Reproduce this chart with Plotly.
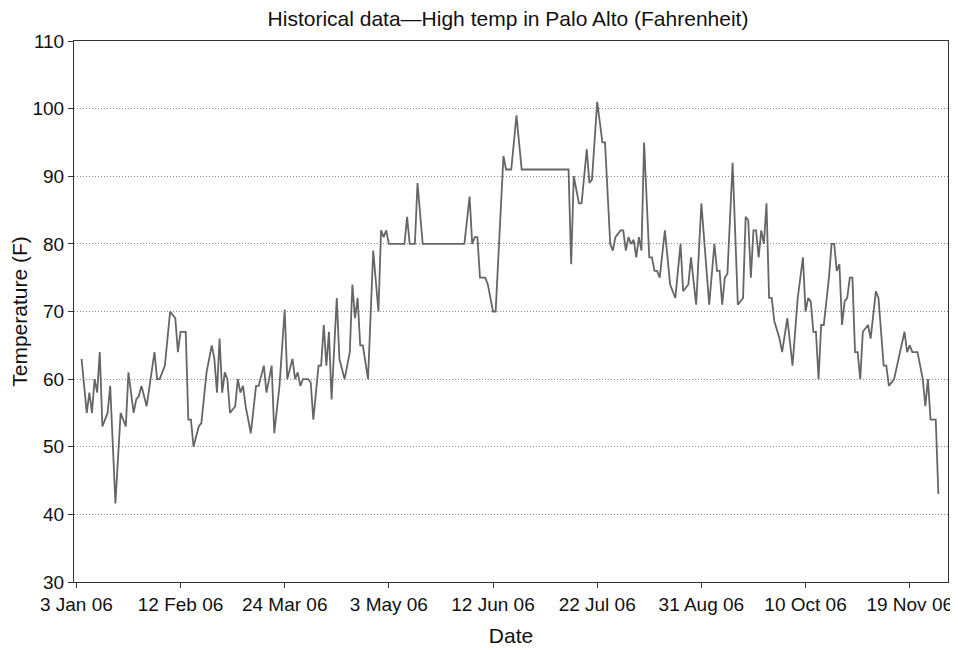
import pandas as pd
import plotly.graph_objects as go

day_offsets = [
    2, 4, 5, 6, 7, 8, 9, 10, 12, 13, 15, 17, 19, 20, 22, 23, 24, 25, 27, 30,
    31, 32, 34, 36, 38, 39, 40, 42, 43, 44, 45, 47, 48, 50, 52, 53, 54, 55, 56, 57,
    58, 59, 61, 62, 63, 64, 65, 67, 69, 70, 72, 73, 75, 76, 78, 80, 81, 83, 84, 85,
    86, 87, 89, 90, 91, 93, 94, 95, 96, 97, 98, 100, 101, 103, 105, 106, 107, 108, 109, 110,
    112, 114, 116, 117, 118, 119, 120, 126, 127, 128, 130, 131, 133, 149, 151, 152, 153, 154, 155, 157,
    158, 160, 161, 164, 165, 167, 169, 171, 189, 190, 191, 193, 194, 196, 197, 198, 200, 202, 203, 205,
    206, 207, 209, 210, 211, 212, 213, 214, 215, 216, 217, 218, 220, 221, 222, 223, 224, 226, 228, 230,
    232, 233, 235, 236, 238, 240, 243, 245, 246, 247, 248, 249, 250, 252, 254, 256, 257, 258, 259, 260,
    261, 262, 263, 264, 265, 266, 267, 268, 270, 271, 273, 275, 277, 279, 280, 281, 282, 283, 284, 285,
    286, 287, 289, 290, 291, 292, 293, 294, 295, 296, 297, 298, 299, 300, 301, 302, 304, 305, 307, 308,
    310, 311, 312, 314, 318, 319, 320, 321, 323, 325, 326, 327, 328, 330, 331,
]
high_temp = [
    63, 55, 58, 55, 60, 58, 64, 53, 55, 59, 41.6, 55, 53, 61, 55, 57, 57.5, 59, 56, 64,
    60, 60, 62, 70, 69, 64, 67, 67, 54, 54, 50, 53, 53.5, 61, 65, 63, 58, 66, 58, 61,
    60, 55, 56, 60, 58, 59, 56, 52, 59, 59, 62, 58, 62, 52, 59, 70.3, 60, 63, 60, 61,
    59, 60, 60, 59.5, 54, 62, 62, 68, 62, 67, 57, 72, 63, 60, 64, 74, 69, 72, 65, 65,
    60, 79, 70, 82, 81, 82, 80, 80, 84, 80, 80, 89, 80, 80, 87, 80, 81, 81, 75, 75,
    74, 70, 70, 93, 91, 91, 99, 91, 91, 77, 90, 86, 86, 94, 89, 89.5, 101, 95, 95, 80,
    79, 81, 82, 82, 79, 81, 80, 80.6, 78, 81, 79, 95, 78, 78, 76, 76, 75, 82, 74, 72,
    80, 73, 74, 78, 71, 86, 71, 80, 76, 76, 71, 75, 75.6, 92, 71, 72, 84, 83.5, 75, 82,
    82, 78, 82, 80, 86, 72, 72, 68.6, 66, 64, 69, 62, 72, 78, 70, 72, 71.5, 67, 67, 60,
    68, 68, 75, 80, 80, 76, 77, 68, 71.5, 72, 75, 75, 64, 64, 60, 67, 68, 66, 73, 72,
    62, 62, 59, 60, 67, 64, 65, 64, 64, 60, 56, 60, 54, 54, 43,
]

tick_day_offsets = [0, 40, 80, 120, 160, 200, 240, 280, 320]
tick_labels = ["3 Jan 06", "12 Feb 06", "24 Mar 06", "3 May 06", "12 Jun 06",
               "22 Jul 06", "31 Aug 06", "10 Oct 06", "19 Nov 06"]
y_ticks = [30, 40, 50, 60, 70, 80, 90, 100, 110]

base = pd.Timestamp("2006-01-03")
dates = base + pd.to_timedelta(day_offsets, unit="D")
tick_dates = base + pd.to_timedelta(tick_day_offsets, unit="D")

font_family = "Liberation Sans, Arial, sans-serif"

fig = go.Figure()
fig.add_trace(go.Scatter(
    x=dates, y=high_temp, mode="lines",
    line=dict(color="#666666", width=1.8),
    showlegend=False,
))

# The page body adds an 8px offset, so the figure is sized to fit the 958x650 window
fig.update_layout(
    width=950, height=642,
    margin=dict(l=66, r=10, t=33, b=68),
    paper_bgcolor="white", plot_bgcolor="white",
    font=dict(family=font_family, size=19, color="#111111"),
    title=dict(text="Historical data\u2014High temp in Palo Alto (Fahrenheit)",
               x=500 / 950, xanchor="center", y=1 - 3 / 642, yanchor="top",
               font=dict(size=21, family=font_family, color="#111111")),
)
fig.update_xaxes(
    type="date",
    range=[base - pd.Timedelta(days=0.9), base + pd.Timedelta(days=334.7)],
    tickvals=tick_dates, ticktext=tick_labels,
    ticks="outside", ticklen=5, tickcolor="#333333",
    showline=True, linecolor="#333333", linewidth=1, mirror=True,
    showgrid=False, zeroline=False, automargin=False,
    tickfont=dict(size=19),
    title=dict(text="Date", font=dict(size=21), standoff=14),
)
fig.update_yaxes(
    range=[30, 110], tickvals=y_ticks,
    ticks="outside", ticklen=5, tickcolor="#333333",
    showline=True, linecolor="#333333", linewidth=1, mirror=True,
    showgrid=True, gridcolor="#888888", griddash="1px,2px", gridwidth=1,
    zeroline=False, automargin=False,
    tickfont=dict(size=19),
    title=dict(text="Temperature (F)", font=dict(size=21), standoff=3),
)

fig.write_html("out.html")
